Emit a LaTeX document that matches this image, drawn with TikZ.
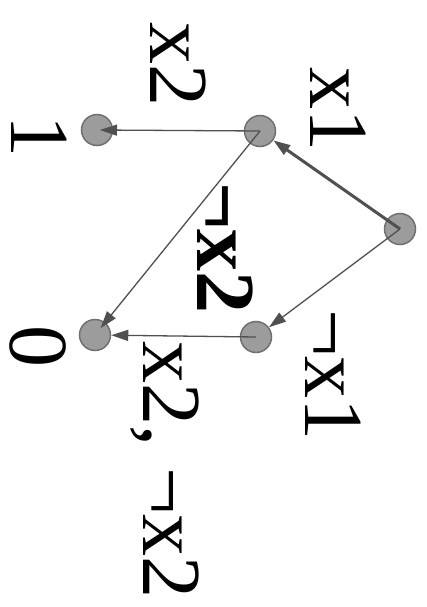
\documentclass[tikz,border=0pt]{standalone}
\usepackage{fontspec}
\setmainfont{Liberation Serif}
\usetikzlibrary{arrows.meta}
\definecolor{nodegray}{HTML}{9C9C9C}
\definecolor{bordergray}{HTML}{707070}
\definecolor{edgegray}{HTML}{505050}
\begin{document}
\begin{tikzpicture}[x=1pt,y=-1pt,
  state/.style={circle, fill=nodegray, draw=bordergray, line width=1.5pt, minimum size=31pt, inner sep=0pt},
  lbl/.style={rotate=-90, anchor=base, inner sep=0pt, font=\fontsize{84}{84}\selectfont},
  edge/.style={draw=edgegray, line width=1.3pt, -{Triangle[length=17pt,width=11pt]}}]
\useasboundingbox[fill=white] (0,0) rectangle (426,607);
% states
\node[state] (root) at (400,229) {};
\node[state] (x1) at (260,131) {};
\node[state] (nx1) at (256,337) {};
\node[state] (one) at (97,130) {};
\node[state] (zero) at (95,335) {};
% edges
\draw[edge, line width=3pt] (root.center) -- (x1);
\draw[edge] (root.center) -- (nx1);
\draw[edge, shorten >=3pt] (x1.center) -- (one.center);
\draw[edge, shorten >=9pt] (x1.center) -- (zero.center);
\draw[edge] (nx1.center) -- (zero);
% labels
\node[lbl] (lx1) at (310,110) {x1};
\node[lbl] (lx2) at (150,65) {x2};
\node[lbl] (lnx1) at (305,375) {¬x1};
\node[lbl, font=\fontsize{84}{84}\selectfont\bfseries] (lnx2) at (197,248) {¬x2};
\node[lbl] (lboth) at (143,470) {x2, ¬x2};
\node[lbl] (lone) at (12,137) {1};
\node[lbl] (lzero) at (10,346) {0};
\end{tikzpicture}
\end{document}
